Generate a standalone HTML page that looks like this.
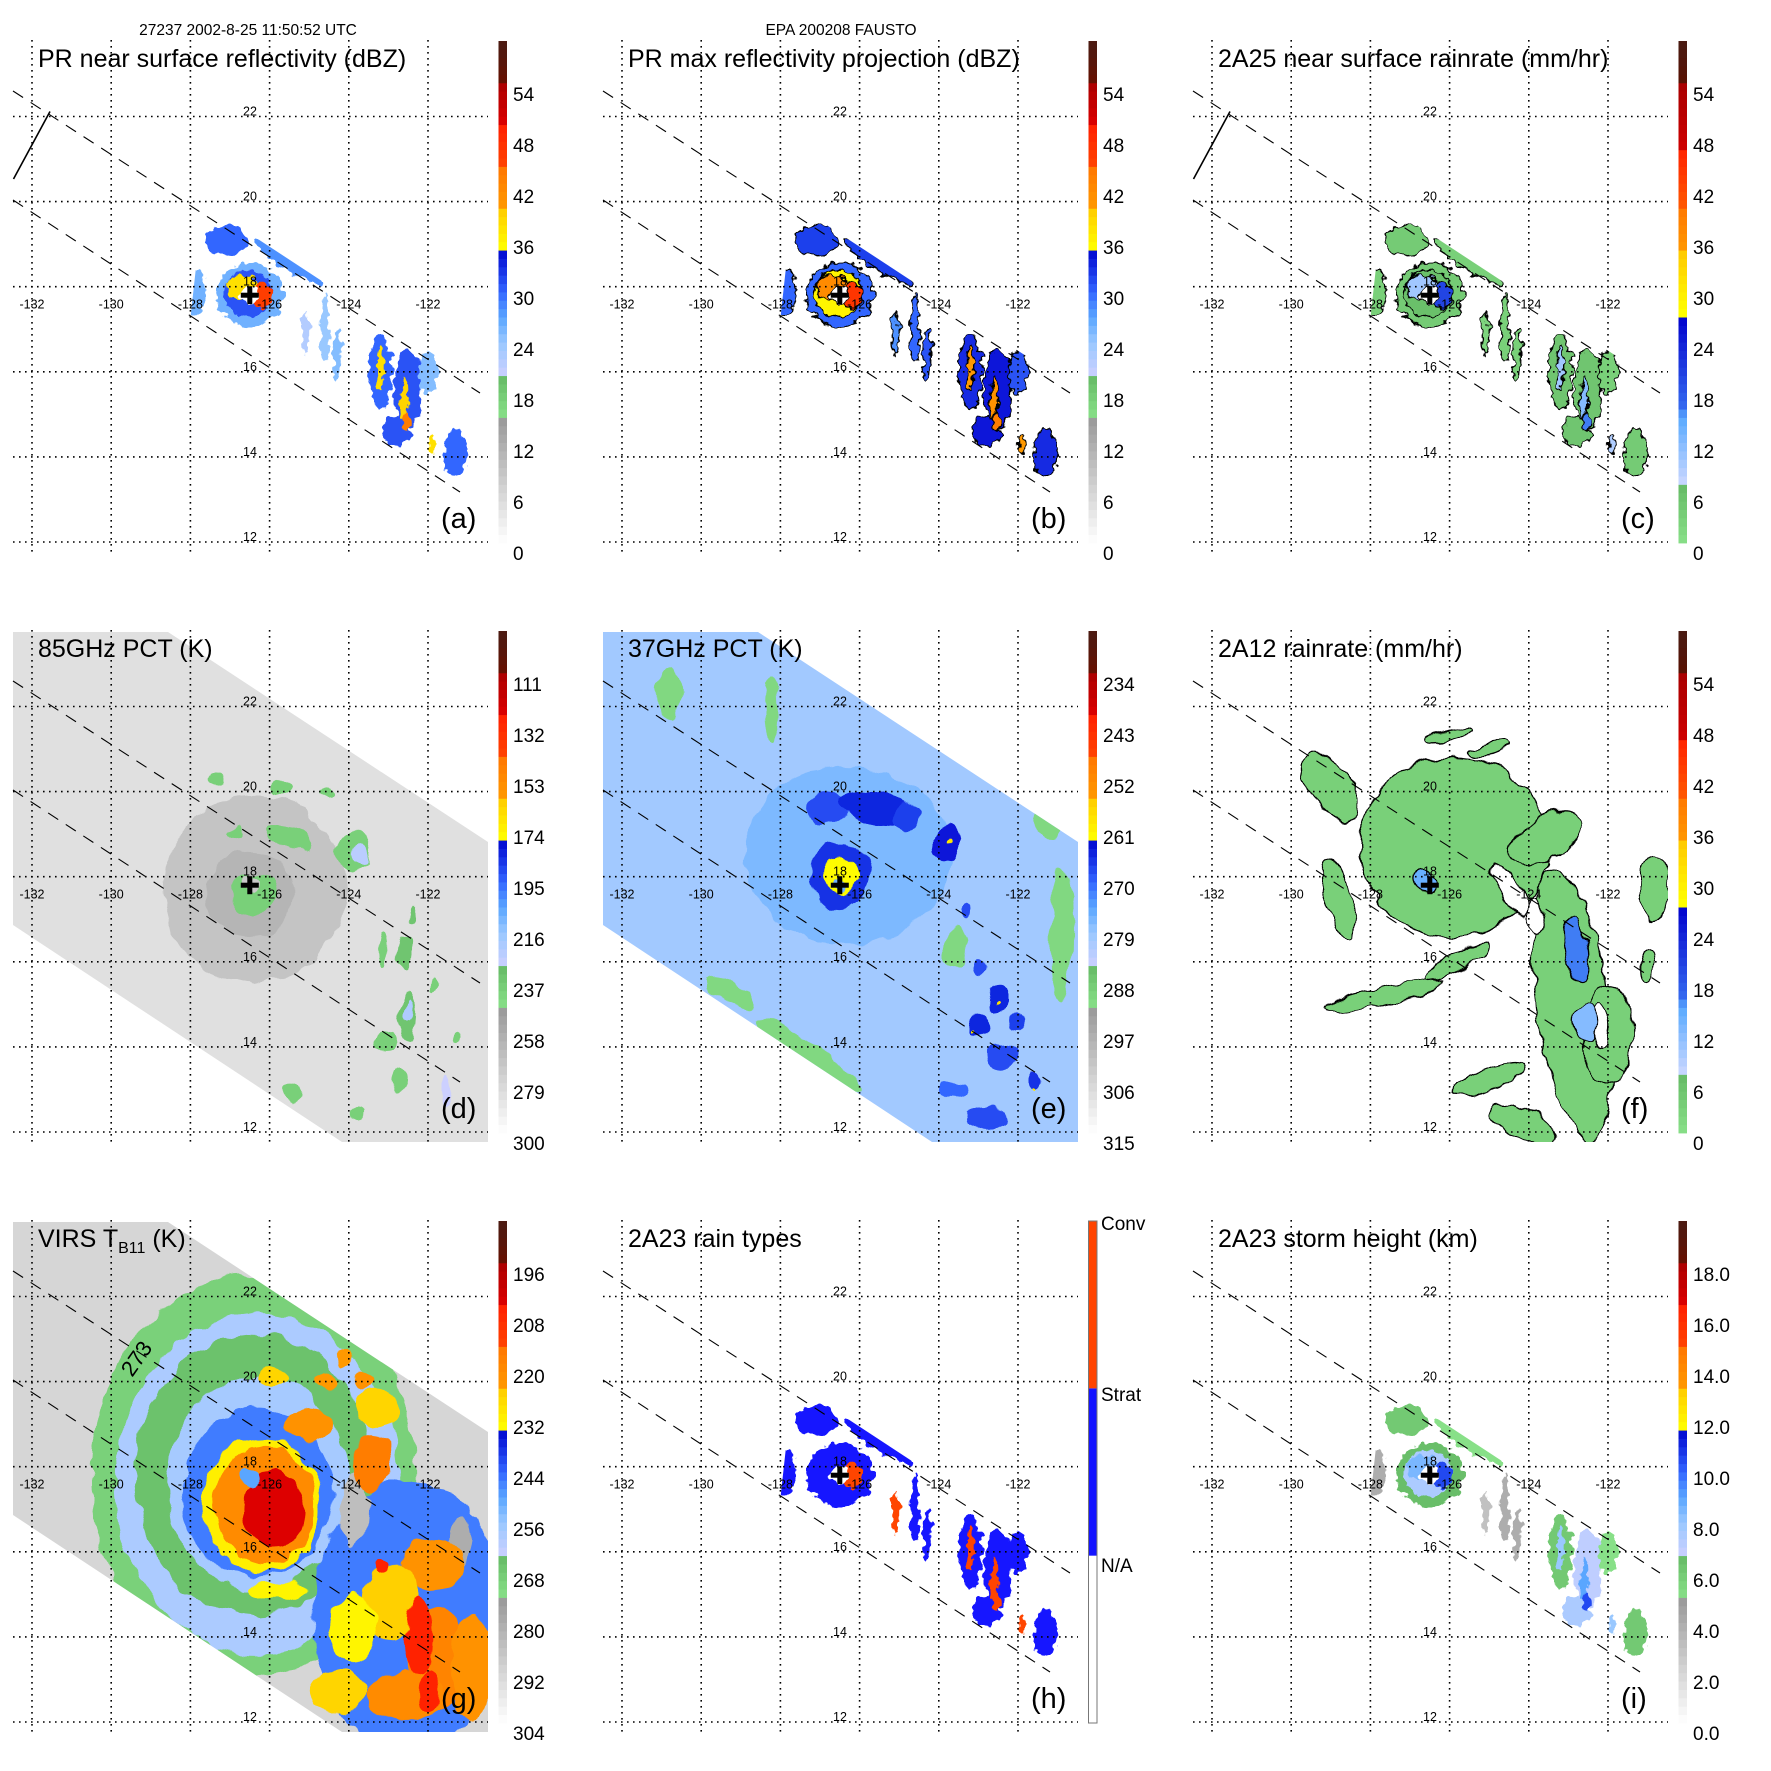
<!DOCTYPE html>
<html><head><meta charset="utf-8">
<style>
html,body{margin:0;padding:0;background:#fff;}
svg{display:block;font-family:"Liberation Sans",sans-serif;}
</style></head>
<body>
<svg id="fig" width="1771" height="1771" viewBox="0 0 1771 1771" xmlns="http://www.w3.org/2000/svg">
<defs>
  <clipPath id="clipArea"><rect x="13" y="42" width="475" height="510"/></clipPath>
  <clipPath id="clipPR"><polygon points="203,203 488,390 488,520 190,322"/></clipPath>
  <clipPath id="clipSwath"><polygon points="13,42 168,42 488,252 488,552 342,552 13,335"/></clipPath>
  <filter id="roughBig" x="-20%" y="-20%" width="140%" height="140%">
    <feTurbulence type="fractalNoise" baseFrequency="0.045" numOctaves="2" seed="4" result="n"/>
    <feDisplacementMap in="SourceGraphic" in2="n" scale="16" xChannelSelector="R" yChannelSelector="G"/>
  </filter>
  <filter id="roughPR" x="-20%" y="-20%" width="140%" height="140%">
    <feTurbulence type="fractalNoise" baseFrequency="0.12" numOctaves="2" seed="7" result="n"/>
    <feDisplacementMap in="SourceGraphic" in2="n" scale="11" xChannelSelector="R" yChannelSelector="G"/>
  </filter>
</defs>
</svg>
<script>
// ---------- axis ticks ----------
const lonTicks = [-132,-130,-128,-126,-124,-122];
const latTicks = [22,20,18,16,14,12];
// ---------- colorbar tick labels (bottom -> top) ----------
const cbA = ['0','6','12','18','24','30','36','42','48','54'];
const cbB = ['0','6','12','18','24','30','36','42','48','54'];
const cbC = ['0','6','12','18','24','30','36','42','48','54'];
const cbD = ['300','279','258','237','216','195','174','153','132','111'];
const cbE = ['315','306','297','288','279','270','261','252','243','234'];
const cbF = ['0','6','12','18','24','30','36','42','48','54'];
const cbG = ['304','292','280','268','256','244','232','220','208','196'];
const cbH = ['N/A','Strat','Conv'];
const cbI = ['0.0','2.0','4.0','6.0','8.0','10.0','12.0','14.0','16.0','18.0'];
// ---------- storm center ----------
const centerLon = -126.5;
const centerLat = 17.8;
// ---------- PR swath features (shared positions) ----------
const prLon = [-126.5,-126.55,-126.7,-126.2,-126.5,-127.1,-125.5,-127.9,-128.8,-124.6,-125.1,-124.3,-123.2,-122.5,-122.0,-122.8,-121.3,-123.2,-122.6,-122.55,-121.9];
const prLat = [17.8,17.85,18.0,17.8,17.78,19.1,18.6,17.9,19.1,17.0,16.9,16.4,16.0,15.6,16.0,14.6,14.1,16.1,15.3,14.8,14.3];
const prRx = [0.85,0.6,0.4,0.25,0.22,0.55,1.0,0.3,0.35,0.12,0.1,0.1,0.3,0.35,0.25,0.35,0.3,0.08,0.1,0.13,0.1];
const prRy = [0.75,0.55,0.3,0.3,0.2,0.35,0.22,0.55,0.3,0.8,0.5,0.6,0.85,0.95,0.5,0.35,0.55,0.5,0.6,0.2,0.2];
const prRot = [0,0,0,0,0,0,33,0,0,0,0,0,0,0,0,0,0,0,0,0,0];
const valsA = [26,31,38,46,-1,30,28,26,19,24,22,25,30,31,25,31,30,38,39,44,38];
const valsB = [30,36,42,47,-1,32,32,30,27,30,28,31,33,34,31,34,33,40,41,44,40];
const valsC = [4,6,10,20,-1,4,3,3,1,3,2,3,5,5,3,5,4,10,12,16,9];
const valsH = [1,1,1,2,-1,1,1,1,1,1,2,1,1,1,1,1,1,2,2,2,2];
const valsI = [6.5,7.5,8.5,10.5,-1,6,5,4,3,4,3,4,6,7,5,7.5,6,8,9,10.5,8];
// ---------- 85GHz PCT features (K) ----------
const dLon = [-126.4,-126.5,-126.4,-126.45,-125.5,-123.9,-127.3,-125.7,-124.6,-126.9,-123.1,-122.4,-122.6,-122.55,-123.05,-122.7,-121.55,-121.3,-123.8,-125.45,-121.8,-123.7,-122.5];
const dLat = [17.7,17.6,17.6,17.85,18.9,18.6,20.3,20.1,19.95,19.0,16.3,17.1,16.2,14.75,14.1,13.25,13.0,14.2,12.4,12.95,15.5,18.5,14.8];
const dRx = [2.3,1.1,0.6,0.28,0.65,0.45,0.2,0.3,0.2,0.22,0.12,0.1,0.15,0.2,0.3,0.2,0.12,0.12,0.15,0.2,0.1,0.2,0.08];
const dRy = [2.2,1.0,0.5,0.22,0.25,0.5,0.15,0.18,0.1,0.12,0.4,0.18,0.35,0.55,0.22,0.3,0.35,0.12,0.12,0.2,0.2,0.25,0.3];
const dRot = [0,0,0,0,25,0,0,0,0,0,0,0,0,0,0,0,0,0,0,0,0,0,0];
const dVal = [270,262,240,272,240,240,240,240,240,240,240,235,235,235,240,240,230,240,240,240,240,225,222];
const dBase = 284;
// ---------- 37GHz PCT features (K) ----------
const eLon = [-126.3,-126.5,-126.5,-126.5,-126.8,-125.6,-124.8,-123.8,-123.7,-123.4,-123.5,-122.9,-122.5,-123.0,-122.0,-122.4,-121.6,-123.6,-122.8,-122.55,-123.1,-121.6,-127.3,-129.3,-120.9,-121.2,-130.8,-128.2,-123.6];
const eLat = [18.5,18.05,18.0,17.8,19.6,19.6,19.4,18.8,18.8,17.2,16.4,15.9,15.1,14.5,14.6,13.8,13.2,13.0,12.3,15.0,14.3,13.0,13.8,15.3,16.6,19.3,22.3,22.0,16.3];
const eRx = [2.6,0.75,0.45,0.18,0.5,0.9,0.4,0.35,0.05,0.15,0.18,0.15,0.3,0.3,0.25,0.4,0.2,0.4,0.5,0.07,0.06,0.04,1.6,0.7,0.3,0.4,0.3,0.2,0.3];
const eRy = [2.1,0.8,0.45,0.18,0.4,0.35,0.3,0.45,0.05,0.2,0.18,0.2,0.35,0.3,0.25,0.3,0.2,0.2,0.3,0.06,0.04,0.04,0.3,0.25,1.6,0.4,0.6,0.8,0.5];
const eRot = [0,0,0,0,0,15,0,0,0,0,0,0,0,0,0,0,0,0,0,0,0,0,33,33,0,0,0,0,0];
const eVal = [277,266,262,276,268,265,267,264,259,268,266,268,265,265,267,268,266,270,268,258,259,259,291,291,291,291,291,291,291];
const eBase = 280;
// ---------- 2A12 rain rate features (mm/hr) ----------
const fLon = [-125.9,-123.6,-129.0,-128.8,-122.9,-122.0,-127.7,-125.8,-125.0,-124.2,-120.85,-121.0,-124.5,-123.85,-122.2,-126.6,-122.8,-122.6,-126.0,-125.0];
const fLat = [18.7,18.9,20.1,17.5,15.0,14.3,15.2,16.0,13.25,12.2,17.7,15.9,17.7,17.1,14.5,17.9,16.3,14.6,21.3,21.0];
const fRx = [2.4,1.0,0.5,0.3,0.9,0.6,1.6,0.9,1.0,0.9,0.35,0.2,0.25,0.2,0.22,0.35,0.22,0.3,0.6,0.5];
const fRy = [2.1,0.5,0.9,1.0,3.2,1.2,0.2,0.22,0.25,0.35,0.8,0.35,0.75,0.4,0.5,0.3,0.8,0.4,0.12,0.15];
const fRot = [0,-30,-35,-15,-8,0,-12,-30,-20,25,0,0,-30,0,0,0,-10,0,-10,-15];
const fVal = [3,3,3,3,3,3,3,3,3,3,3,3,-1,-1,-1,14,16,12,3,3];
// ---------- VIRS TB11 features (K) ----------
const gLon = [-126.4,-126.3,-126.4,-126.3,-126.3,-122.5,-123.9,-121.2,-126.2,-126.1,-125.9,-126.5,-125.0,-125.9,-124.6,-123.6,-124.1,-123.3,-123.4,-121.9,-122.9,-121.8,-122.6,-120.9,-123.9,-124.3,-122.2,-122.0,-123.1,-125.8];
const gLat = [17.8,17.6,17.8,17.6,17.4,14.5,17.0,16.3,17.1,17.1,17.0,17.75,19.0,20.1,20.0,20.0,20.55,19.35,18.1,15.7,14.8,13.5,12.6,13.3,14.2,12.7,14.0,12.7,15.7,15.1];
const gRx = [4.1,3.6,3.0,2.3,1.9,2.4,0.35,0.3,1.5,1.25,0.75,0.3,0.6,0.4,0.3,0.25,0.2,0.55,0.5,0.8,0.7,0.7,1.0,0.5,0.6,0.7,0.35,0.25,0.2,0.7];
const gRy = [4.7,4.0,3.3,2.5,2.0,3.2,0.9,0.6,1.6,1.4,0.9,0.25,0.45,0.2,0.2,0.2,0.2,0.45,0.65,0.6,0.9,1.2,0.6,1.3,0.8,0.5,0.9,0.45,0.15,0.22];
const gRot = [0,0,0,0,0,0,0,0,0,0,0,0,0,0,0,0,0,0,0,0,0,0,0,0,0,0,0,0,0,0];
const gVal = [270,259,266,258,246,246,285,280,231,220,204,250,222,226,224,222,224,226,216,222,225,218,220,222,232,226,205,205,205,232];
const gBase = 292;

// ---------- colormaps ----------
const stopsA = [[0,'#ffffff'],[14.9,'#999999'],[15,'#88e088'],[19.9,'#66bb66'],[20,'#ccd0ff'],[24,'#99c8ff'],[27,'#5aa6ff'],[30,'#3366ff'],[34.9,'#0008d0'],[35,'#ffff00'],[39.9,'#ffcc00'],[40,'#ff9900'],[44.9,'#ff7700'],[45,'#ff4400'],[49.9,'#ff2000'],[50,'#dd0000'],[54.9,'#aa0000'],[55,'#661000'],[60,'#4a1c14']];
const stopsF = [[0,'#88e088'],[6.9,'#66bb66'],[7,'#ccd8ff'],[15,'#5aaaff'],[16.5,'#3366ee'],[27.3,'#0000cc'],[27.4,'#ffff00'],[34.5,'#ffcc00'],[34.6,'#ff9900'],[40.4,'#ff7700'],[40.5,'#ff5500'],[47.3,'#ff2200'],[47.4,'#cc0000'],[54.5,'#aa0000'],[54.6,'#5a1000'],[60,'#4a1c14']];

function hex(c){return [parseInt(c.substr(1,2),16),parseInt(c.substr(3,2),16),parseInt(c.substr(5,2),16)];}
function cmap(stops,v){
  if(v<=stops[0][0]) return stops[0][1];
  for(let i=1;i<stops.length;i++){
    if(v<=stops[i][0]){
      const a=stops[i-1],b=stops[i];const t=(v-a[0])/(b[0]-a[0]);
      const ca=hex(a[1]),cb=hex(b[1]);
      return 'rgb('+ca.map((x,j)=>Math.round(x+(cb[j]-x)*t)).join(',')+')';
    }
  }
  return stops[stops.length-1][1];
}
function hColor(v){return v===2?'#ff4400':(v===1?'#1414ff':'#ffffff');}

// ---------- axis functions ----------
function px(lon){return 32 + (lon+132)*39.6;}
function py(lat){return 116.5 + (22-lat)*42.55;}
const SX=39.6, SY=42.55;

const NS='http://www.w3.org/2000/svg';
const svg=document.getElementById('fig');
function mk(tag,attrs,parent){const e=document.createElementNS(NS,tag);for(const k in attrs)e.setAttribute(k,attrs[k]);parent.appendChild(e);return e;}

const panels=[
 {key:'a',c:0,r:0,title:'PR near surface reflectivity (dBZ)',kind:'pr',vals:valsA,aeq:v=>v,stops:stopsA,cb:cbA,slash:true,outline:false},
 {key:'b',c:1,r:0,title:'PR max reflectivity projection (dBZ)',kind:'pr',vals:valsB,aeq:v=>v,stops:stopsA,cb:cbB,slash:false,outline:true},
 {key:'c',c:2,r:0,title:'2A25 near surface rainrate (mm/hr)',kind:'pr',vals:valsC,aeq:v=>v,stops:stopsF,cb:cbC,slash:true,outline:true},
 {key:'d',c:0,r:1,title:'85GHz PCT (K)',kind:'d',aeq:v=>(300-v)*6/21,stops:stopsA,cb:cbD},
 {key:'e',c:1,r:1,title:'37GHz PCT (K)',kind:'e',aeq:v=>(315-v)*6/9,stops:stopsA,cb:cbE},
 {key:'f',c:2,r:1,title:'2A12 rainrate (mm/hr)',kind:'f',aeq:v=>v,stops:stopsF,cb:cbF},
 {key:'g',c:0,r:2,title:'VIRS',kind:'g',aeq:v=>(304-v)/2,stops:stopsA,cb:cbG},
 {key:'h',c:1,r:2,title:'2A23 rain types',kind:'h',vals:valsH,cb:cbH},
 {key:'i',c:2,r:2,title:'2A23 storm height (km)',kind:'pr',vals:valsI,aeq:v=>v*3,stops:stopsA,cb:cbI,slash:false,outline:false}
];

function drawBlobs(parent,lon,lat,rx,ry,rot,val,colorFn,stroke){
  for(let i=0;i<lon.length;i++){
    const v=val[i];
    const cx=px(lon[i]),cy=py(lat[i]);
    const e=mk('ellipse',{cx:cx.toFixed(1),cy:cy.toFixed(1),rx:(rx[i]*SX).toFixed(1),ry:(ry[i]*SY).toFixed(1),fill:colorFn(v),transform:'rotate('+rot[i]+' '+cx.toFixed(1)+' '+cy.toFixed(1)+')'},parent);
    if(stroke){e.setAttribute('stroke','#000');e.setAttribute('stroke-width','1.3');}
    
    
  }
}

panels.forEach(p=>{
  const g=mk('g',{transform:'translate('+(590*p.c)+','+(590*p.r)+')'},svg);
  
  
  const colorFn = p.kind==='h' ? hColor : (v=>v<0?'#ffffff':cmap(p.stops,p.aeq(v)));

  const dataClip=mk('g',{'clip-path':'url(#clipArea)'},g);
  
  
  if(p.kind==='pr'||p.kind==='h'){
    const prc=mk('g',{'clip-path':'url(#clipPR)'},dataClip);
    const fg=mk('g',{filter:'url(#roughPR)'},prc);
    
    
    drawBlobs(fg,prLon,prLat,prRx,prRy,prRot,p.vals,colorFn,p.outline);
  } else if(p.kind==='d'||p.kind==='e'||p.kind==='g'){
    const sc=mk('g',{'clip-path':'url(#clipSwath)'},dataClip);
    const base=p.kind==='d'?dBase:(p.kind==='e'?eBase:gBase);
    const bg=mk('rect',{x:0,y:0,width:500,height:560,fill:colorFn(base)},sc);
    
    
    const fg=mk('g',{filter:'url(#roughBig)'},sc);
    
    
    if(p.kind==='d') drawBlobs(fg,dLon,dLat,dRx,dRy,dRot,dVal,colorFn,false);
    if(p.kind==='e') drawBlobs(fg,eLon,eLat,eRx,eRy,eRot,eVal,colorFn,false);
    if(p.kind==='g') drawBlobs(fg,gLon,gLat,gRx,gRy,gRot,gVal,colorFn,false);
  } else if(p.kind==='f'){
    const fg=mk('g',{filter:'url(#roughBig)'},dataClip);
    
    
    drawBlobs(fg,fLon,fLat,fRx,fRy,fRot,fVal,colorFn,true);
  }

  lonTicks.forEach(lon=>{
    const l=mk('line',{x1:px(lon),x2:px(lon),y1:40,y2:552,stroke:'#000','stroke-width':1.6,'stroke-dasharray':'1.6 4.4'},g);
    
    
  });
  latTicks.forEach(lat=>{
    const l=mk('line',{x1:13,x2:488,y1:py(lat),y2:py(lat),stroke:'#000','stroke-width':1.6,'stroke-dasharray':'1.6 4.4'},g);
    
    
  });
  const d1=mk('line',{x1:13,y1:91,x2:480,y2:393,stroke:'#000','stroke-width':1.1,'stroke-dasharray':'12 9'},g);
  
  
  const d2=mk('line',{x1:13,y1:200,x2:460,y2:492,stroke:'#000','stroke-width':1.1,'stroke-dasharray':'12 9'},g);
  
  
  if(p.slash){
    const s=mk('line',{x1:50,y1:111.5,x2:13.5,y2:179,stroke:'#000','stroke-width':1.6},g);
    
    
  }
  latTicks.forEach(lat=>{
    const t=mk('text',{x:250,y:py(lat)-1,'font-size':12.5,'text-anchor':'middle',fill:'#000'},g);
    t.textContent=String(lat);
    
    
  });
  lonTicks.forEach(lon=>{
    const t=mk('text',{x:px(lon),y:py(18)+22,'font-size':12.5,'text-anchor':'middle',fill:'#000'},g);
    t.textContent=String(lon);
    
    
  });
  if(p.kind!=='g'){
    const cx=px(centerLon),cy=py(centerLat);
    const c1=mk('rect',{x:cx-9,y:cy-2.5,width:18,height:5,fill:'#000'},g);
    
    
    const c2=mk('rect',{x:cx-2.5,y:cy-9,width:5,height:18,fill:'#000'},g);
    
    
  }
  if(p.kind==='g'){
    const t=mk('text',{x:128,y:200,'font-size':22,transform:'rotate(-55 128 195)',fill:'#000'},g);
    t.textContent='273';
    
    
  }

  const tt=mk('text',{x:38,y:67,'font-size':25,fill:'#000'},g);
  
  
  if(p.kind==='g'){
    tt.textContent='VIRS T';
    const sub=mk('tspan',{'font-size':16,dy:6},tt);
    sub.textContent='B11';
    const rest=mk('tspan',{dy:-6},tt);
    rest.textContent=' (K)';
  } else tt.textContent=p.title;

  const lt=mk('text',{x:441,y:528,'font-size':29,fill:'#000'},g);
  lt.textContent='('+p.key+')';
  
  

  const cbg=mk('g',{},g);
  
  
  const top=41,bot=543,h=bot-top;
  if(p.kind==='h'){
    const cols=['#ffffff','#1414ff','#ff4400'];
    cols.forEach((c,k)=>{
      const r=mk('rect',{x:498.5,y:bot-(k+1)*h/3,width:8.5,height:h/3,fill:c},cbg);
      
      
    });
    const o=mk('rect',{x:498.5,y:top,width:8.5,height:h,fill:'none',stroke:'#777','stroke-width':1},cbg);
    
    
    const labY=[392,221,50];
    p.cb.forEach((lab,k)=>{
      const t=mk('text',{x:511,y:labY[k],'font-size':19,fill:'#000'},cbg);
      t.textContent=lab;
      
      
    });
  } else {
    const step=h/60;
    for(let u=0;u<60;u++){
      const r=mk('rect',{x:498.5,y:(bot-(u+1)*step).toFixed(2),width:8.5,height:(step+0.4).toFixed(2),fill:cmap(p.stops,u+0.5)},cbg);
      
      
    }
    p.cb.forEach((lab,k)=>{
      const t=mk('text',{x:513,y:560-51*k,'font-size':19,fill:'#000'},cbg);
      t.textContent=lab;
      
      
    });
  }
});

const h1=mk('text',{x:248,y:35,'font-size':15.5,'text-anchor':'middle',fill:'#000'},svg);
h1.textContent='27237 2002-8-25 11:50:52 UTC';


const h2=mk('text',{x:841,y:35,'font-size':15.5,'text-anchor':'middle',fill:'#000'},svg);
h2.textContent='EPA 200208 FAUSTO';


</script>
</body></html>
